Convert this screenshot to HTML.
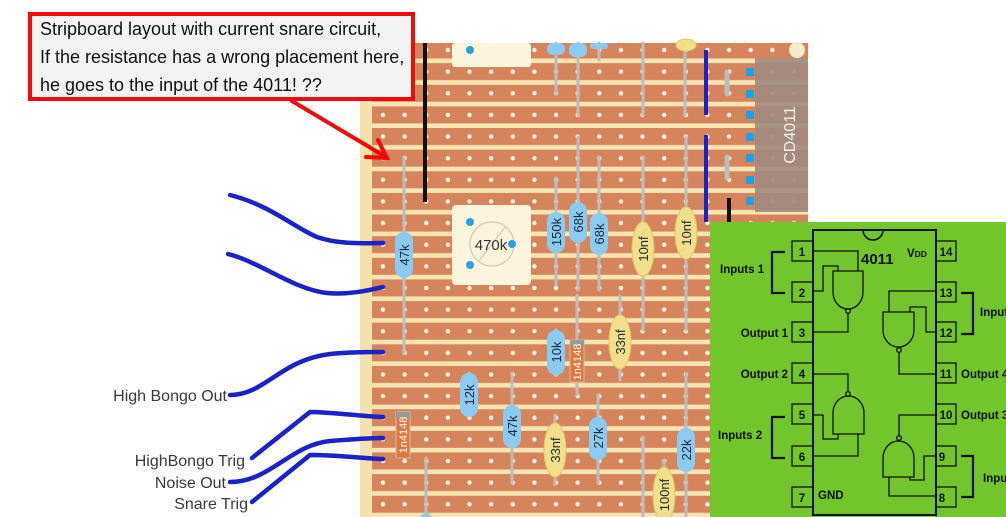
<!DOCTYPE html>
<html><head><meta charset="utf-8"><style>
html,body{margin:0;padding:0;background:#fff;width:1006px;height:517px;overflow:hidden}
svg{display:block}
</style></head><body>
<svg width="1006" height="517" viewBox="0 0 1006 517" xmlns="http://www.w3.org/2000/svg" font-family="Liberation Sans, sans-serif">
<defs>
<pattern id="strips" x="0" y="41.5" width="1006" height="21.63" patternUnits="userSpaceOnUse">
<rect x="0" y="0" width="1006" height="21.63" fill="#f6e4b4"/>
<rect x="0" y="0" width="1006" height="17" fill="#d6845c"/>
</pattern>
<pattern id="dots" x="372.2" y="39.2" width="21.63" height="21.63" patternUnits="userSpaceOnUse">
<circle cx="10.8" cy="10.8" r="2.2" fill="#fbf3e6"/>
</pattern>
</defs>
<!-- board -->
<rect x="360" y="43" width="448" height="474" fill="#f3e1ae"/>
<rect x="372" y="43" width="436" height="474" fill="url(#strips)"/>
<rect x="372" y="43" width="436" height="474" fill="url(#dots)"/>
<!-- top pot -->
<rect x="452" y="43" width="79" height="24" rx="3" fill="#fbf5de"/>
<circle cx="470" cy="50" r="4" fill="#2aa0e0"/>
<!-- wires -->
<line x1="425" y1="43" x2="425" y2="202" stroke="#111" stroke-width="4"/>
<line x1="729" y1="198" x2="729" y2="232" stroke="#111" stroke-width="4"/>
<line x1="706" y1="50" x2="706" y2="115" stroke="#1a22c8" stroke-width="4"/>
<line x1="706" y1="135" x2="706" y2="222" stroke="#1a22c8" stroke-width="4"/>
<!-- leads -->
<g stroke="#bdbdbd" stroke-width="3" stroke-linecap="round">
<line x1="404" y1="158" x2="404" y2="353"/>
<line x1="556" y1="43" x2="556" y2="94"/>
<line x1="578" y1="43" x2="578" y2="115"/>
<line x1="599" y1="43" x2="599" y2="60"/>
<line x1="643" y1="43" x2="643" y2="115"/>
<line x1="685" y1="43" x2="685" y2="115"/>
<line x1="556" y1="178" x2="556" y2="285"/>
<line x1="578" y1="137" x2="578" y2="290"/>
<line x1="599" y1="157" x2="599" y2="290"/>
<line x1="643" y1="157" x2="643" y2="330"/>
<line x1="686" y1="137" x2="686" y2="330"/>
<line x1="556" y1="330" x2="556" y2="375"/>
<line x1="577" y1="295" x2="577" y2="395"/>
<line x1="620" y1="296" x2="620" y2="380"/>
<line x1="469" y1="373" x2="469" y2="415"/>
<line x1="512" y1="373" x2="512" y2="483"/>
<line x1="426" y1="458" x2="426" y2="517"/>
<line x1="555" y1="415" x2="555" y2="485"/>
<line x1="598" y1="395" x2="598" y2="483"/>
<line x1="643" y1="437" x2="643" y2="517"/>
<line x1="686" y1="373" x2="686" y2="517"/>
<line x1="664" y1="460" x2="664" y2="517"/>
<line x1="727" y1="72" x2="727" y2="94" stroke-width="5"/>
<line x1="727" y1="157" x2="727" y2="178" stroke-width="5"/>
</g>
<!-- chip -->
<rect x="755" y="58" width="53" height="154" fill="#a08a80" opacity="0.9"/>
<circle cx="797" cy="50" r="8" fill="#f6eccc"/>
<g fill="#19a3e6">
<rect x="746" y="68" width="8" height="8"/><rect x="746" y="90" width="8" height="8"/><rect x="746" y="111" width="8" height="8"/><rect x="746" y="133" width="8" height="8"/><rect x="746" y="154" width="8" height="8"/><rect x="746" y="176" width="8" height="8"/><rect x="746" y="197" width="8" height="8"/>
</g>
<text transform="translate(795,135) rotate(-90)" text-anchor="middle" font-size="16" fill="#f4f0ee">CD4011</text>
<!-- pot 470k -->
<rect x="452" y="205" width="79" height="80" rx="4" fill="#fbf5de"/>
<circle cx="492" cy="244" r="22" fill="none" stroke="#d8d0c0" stroke-width="1.5"/>
<line x1="478" y1="262" x2="506" y2="226" stroke="#d8d0c0" stroke-width="1.5"/>
<text x="491" y="250" text-anchor="middle" font-size="15" fill="#333">470k</text>
<circle cx="470" cy="222" r="4" fill="#2aa0e0"/><circle cx="470" cy="265" r="4" fill="#2aa0e0"/><circle cx="512" cy="244" r="4" fill="#2aa0e0"/>
<!-- resistors -->
<g fill="#8ccbef">
<rect x="395" y="232" width="18" height="46" rx="9"/>
<rect x="547" y="212" width="18" height="41" rx="9"/>
<rect x="569" y="202" width="18" height="41" rx="9"/>
<rect x="590" y="213" width="18" height="42" rx="9"/>
<rect x="547" y="330" width="18" height="45" rx="9"/>
<rect x="460" y="373" width="18" height="44" rx="9"/>
<rect x="503" y="405" width="18" height="43" rx="9"/>
<rect x="589" y="417" width="18" height="43" rx="9"/>
<rect x="677" y="428" width="18" height="44" rx="9"/>
<rect x="547" y="43" width="18" height="12" rx="6"/>
<rect x="569" y="43" width="18" height="14" rx="6"/>
<rect x="590" y="43" width="18" height="6" rx="3"/>
</g>
<g fill="#f1df8c" stroke="#e2c866">
<ellipse cx="643" cy="249" rx="11" ry="27"/>
<ellipse cx="686" cy="233" rx="11" ry="26"/>
<ellipse cx="620" cy="342" rx="11" ry="27"/>
<ellipse cx="555" cy="450" rx="11" ry="27"/>
<ellipse cx="664" cy="495" rx="11" ry="28"/>
<ellipse cx="686" cy="45" rx="10" ry="6"/>
</g>
<!-- diodes -->
<g>
<rect x="570" y="340" width="14" height="42" fill="#e2763f" stroke="#c9c0b0"/>
<rect x="570" y="340" width="14" height="6" fill="#9a9a9a"/>
<rect x="396" y="412" width="14" height="46" fill="#e2763f" stroke="#c9c0b0"/>
<rect x="396" y="412" width="14" height="6" fill="#9a9a9a"/>
</g>
<g font-size="13" fill="#1a2a3a" text-anchor="middle">
<text transform="translate(409,255) rotate(-90)">47k</text>
<text transform="translate(561,232) rotate(-90)">150k</text>
<text transform="translate(583,222) rotate(-90)">68k</text>
<text transform="translate(604,234) rotate(-90)">68k</text>
<text transform="translate(561,352) rotate(-90)">10k</text>
<text transform="translate(474,395) rotate(-90)">12k</text>
<text transform="translate(517,426) rotate(-90)">47k</text>
<text transform="translate(603,438) rotate(-90)">27k</text>
<text transform="translate(691,450) rotate(-90)">22k</text>
<text transform="translate(648,249) rotate(-90)">10nf</text>
<text transform="translate(691,233) rotate(-90)">10nf</text>
<text transform="translate(625,342) rotate(-90)">33nf</text>
<text transform="translate(560,450) rotate(-90)">33nf</text>
<text transform="translate(669,495) rotate(-90)">100nf</text>
<text transform="translate(581,362) rotate(-90)" fill="#fff" font-size="11">1n4148</text>
<text transform="translate(407,435) rotate(-90)" fill="#fff" font-size="11">1n4148</text>
</g>
<circle cx="426" cy="519" r="6" fill="#8ccbef"/>
<!-- left blue wires -->
<g fill="none" stroke="#1a22c8" stroke-width="4.5" stroke-linecap="round">
<path d="M230,195 C270,205 295,228 317,237 C340,245 365,243 383,243"/>
<path d="M228,254 C260,262 295,290 327,293 C350,295 370,290 383,287"/>
<path d="M230,395 C265,395 280,360 330,354 C350,352 370,352 383,352"/>
<path d="M252,458 L310,412 C330,412 370,417 383,417"/>
<path d="M230,482 C270,482 290,445 330,441 C355,439 370,438 383,438"/>
<path d="M252,502 L310,455 C340,455 370,459 383,459"/>
</g>
<g font-size="16" fill="#3a3a3a" text-anchor="end">
<text x="227" y="401">High Bongo Out</text>
<text x="245" y="466">HighBongo Trig</text>
<text x="226" y="488">Noise Out</text>
<text x="248" y="509">Snare Trig</text>
</g>
<!-- callout -->
<rect x="30" y="14" width="383" height="85" fill="#f3f3f3" stroke="#f00a0a" stroke-width="4"/>
<g font-size="18" fill="#111">
<text x="40" y="35">Stripboard layout with current snare circuit,</text>
<text x="40" y="63">If the resistance has a wrong placement here,</text>
<text x="40" y="91">he goes to the input of the 4011! ??</text>
</g>
<g stroke="#f00a0a" stroke-width="4" fill="none" stroke-linecap="round">
<line x1="292" y1="101" x2="386" y2="157"/>
<polyline points="366,157 387,158 378,140"/>
</g>
<!-- green 4011 panel -->
<rect x="710" y="222" width="296" height="295" fill="#72c52a"/>
<g fill="none" stroke="#111" stroke-width="1.3">
<rect x="813" y="230" width="123" height="285" stroke-width="2"/>
<path d="M863,230 A10,10 0 0 0 883,230" stroke-width="1.6"/>
<rect x="792" y="241" width="21" height="20"/><rect x="792" y="282" width="21" height="20"/><rect x="792" y="322" width="21" height="20"/><rect x="792" y="363" width="21" height="20"/><rect x="792" y="404" width="21" height="20"/><rect x="792" y="446" width="21" height="20"/><rect x="792" y="487" width="21" height="20"/>
<rect x="936" y="241" width="20" height="20"/><rect x="936" y="282" width="20" height="20"/><rect x="936" y="322" width="20" height="20"/><rect x="936" y="363" width="20" height="20"/><rect x="936" y="404" width="20" height="20"/><rect x="936" y="446" width="20" height="20"/><rect x="936" y="487" width="20" height="20"/>
<path d="M833,271 H863 V292 A15,17 0 0 1 833,292 Z"/>
<circle cx="848" cy="311" r="2.3"/>
<polyline points="813,251 858,251 858,271"/>
<polyline points="813,291 823,291 823,266 838,266 838,271"/>
<polyline points="848,313 848,332 813,332"/>
<path d="M883,312 H914 V330 A15.5,17 0 0 1 883,330 Z"/>
<circle cx="899" cy="350" r="2.3"/>
<polyline points="936,291 889,291 889,312"/>
<polyline points="936,332 926,332 926,307 910,307 910,312"/>
<polyline points="899,352 899,374 936,374"/>
<path d="M833,434 H864 V413 A15.5,17 0 0 0 833,413 Z"/>
<circle cx="848" cy="394" r="2.3"/>
<polyline points="813,374 848,374 848,392"/>
<polyline points="813,415 823,415 823,439 838,439 838,434"/>
<polyline points="813,456 858,456 858,434"/>
<path d="M883,477 H914 V458 A15.5,17 0 0 0 883,458 Z"/>
<circle cx="899" cy="438" r="2.3"/>
<polyline points="936,415 899,415 899,436"/>
<polyline points="936,456 924,456 924,480 910,480 910,477"/>
<polyline points="936,496 889,496 889,477"/>
</g>
<g fill="none" stroke="#111" stroke-width="2.2">
<polyline points="785,252 772,252 772,293 785,293"/>
<polyline points="785,417 772,417 772,458 785,458"/>
<polyline points="961,293 973,293 973,334 961,334"/>
<polyline points="961,456 973,456 973,497 961,497"/>
</g>
<g font-size="11.5" font-weight="bold" fill="#111" text-anchor="middle">
<text x="802" y="256">1</text><text x="802" y="297">2</text><text x="802" y="337">3</text><text x="802" y="378">4</text><text x="802" y="419">5</text><text x="802" y="461">6</text><text x="802" y="502">7</text>
<text x="946" y="256">14</text><text x="946" y="297">13</text><text x="946" y="337">12</text><text x="946" y="378">11</text><text x="946" y="419">10</text><text x="942" y="461">9</text><text x="942" y="502">8</text>
</g>
<g font-size="11.5" font-weight="bold" fill="#111">
<text x="720" y="273">Inputs 1</text>
<text x="788" y="337" text-anchor="end">Output 1</text>
<text x="788" y="378" text-anchor="end">Output 2</text>
<text x="718" y="439">Inputs 2</text>
<text x="818" y="499">GND</text>
<text x="907" y="257">V<tspan font-size="8.5">DD</tspan></text>
<text x="961" y="378">Output 4</text>
<text x="961" y="419">Output 3</text>
<text x="980" y="316">Inputs</text>
<text x="983" y="482">Inputs</text>
<text x="861" y="264" font-size="15">4011</text>
</g>
</svg>
</body></html>
